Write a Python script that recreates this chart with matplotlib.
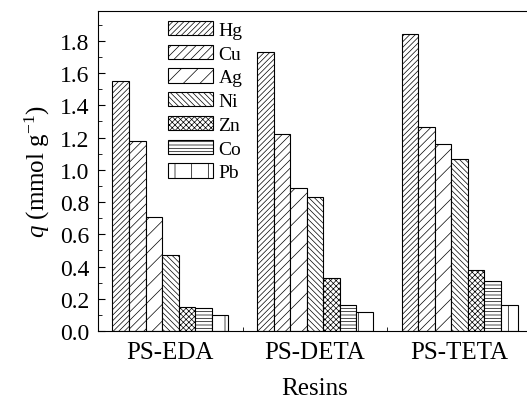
import numpy as np
import matplotlib as mpl
mpl.use('Agg')
import matplotlib.pyplot as plt

plt.rcParams['font.family'] = ['Liberation Serif', 'DejaVu Serif']
plt.rcParams['mathtext.fontset'] = 'custom'
plt.rcParams['mathtext.rm'] = 'Liberation Serif'
plt.rcParams['mathtext.it'] = 'Liberation Serif:italic'
plt.rcParams['hatch.linewidth'] = 0.5

resins = ['PS-EDA', 'PS-DETA', 'PS-TETA']
metals = ['Hg', 'Cu', 'Ag', 'Ni', 'Zn', 'Co', 'Pb']
# uptake q (mmol/g), one list per metal ion, ordered as resins
q_hg = [1.55, 1.73, 1.84]
q_cu = [1.18, 1.22, 1.265]
q_ag = [0.71, 0.89, 1.16]
q_ni = [0.47, 0.83, 1.07]
q_zn = [0.15, 0.33, 0.38]
q_co = [0.14, 0.16, 0.31]
q_pb = [0.10, 0.12, 0.16]
series = [q_hg, q_cu, q_ag, q_ni, q_zn, q_co, q_pb]
hatches = ['//////', '////', '//', '\\\\\\\\\\\\', 'xxxxxx', '-----', '|']

fig = plt.figure(figsize=(5.27, 4.02), dpi=100)
ax = fig.add_axes([98 / 527, 1 - 332 / 402, (532 - 98) / 527, (332 - 12) / 402])

x = np.arange(1, len(resins) + 1)
width = 0.8 / len(metals)
for i, (name, vals, h) in enumerate(zip(metals, series, hatches)):
    pos = x - 0.4 + width * (i + 0.5)
    ax.bar(pos, vals, width, label=name, color='white', edgecolor='black',
           hatch=h, linewidth=0.8)

ax.set_xlim(0.5, 3.5)
ax.set_ylim(0, 1.985)
ax.set_yticks(np.arange(0, 1.81, 0.2))
ax.set_yticklabels(['%.1f' % v for v in np.arange(0, 1.81, 0.2)])
ax.set_yticks(np.arange(0.1, 1.95, 0.2), minor=True)
ax.set_xticks(x)
ax.set_xticklabels(resins)
ax.set_xticks([1.5, 2.5], minor=True)
ax.tick_params(axis='x', which='major', length=0, pad=7, labelsize=18)
ax.tick_params(axis='x', which='minor', direction='in', length=3)
ax.tick_params(axis='y', which='major', direction='in', length=5, labelsize=17, pad=6)
ax.tick_params(axis='y', which='minor', direction='in', length=3)
ax.spines['right'].set_visible(False)

ax.set_xlabel('Resins', fontsize=18, labelpad=10)
ax.set_ylabel('$q$ (mmol g$^{-1}$)', fontsize=18, labelpad=6)

ax.legend(loc='upper left', bbox_to_anchor=(168 / 527, 1 - 22 / 402),
          bbox_transform=fig.transFigure, frameon=False, fontsize=14,
          borderpad=0, borderaxespad=0, handlelength=2.3, handleheight=0.75,
          labelspacing=0.3, handletextpad=0.3)

fig.savefig('out.png', dpi=100)
